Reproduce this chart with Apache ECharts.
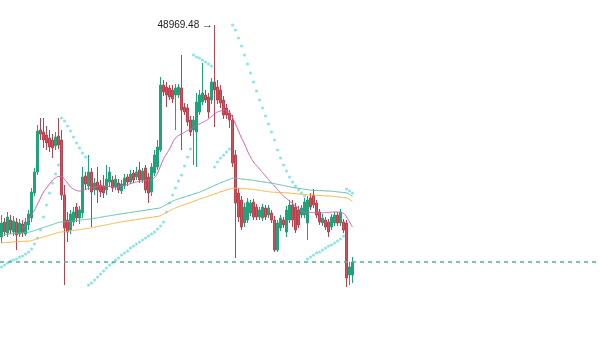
<!DOCTYPE html>
<html>
<head>
<meta charset="utf-8">
<style>
  html, body { margin: 0; padding: 0; background: #fff; }
  #kline { width: 600px; height: 351px; }
</style>
<script src="https://cdn.jsdelivr.net/npm/echarts@6/dist/echarts.min.js"></script>
</head>
<body>
<div id="kline"></div>
<script>
const slotCount = 200

const opens = [
  42610, 43060, 42730, 43120, 42760, 43060, 42700, 43000, 42700, 42970,
  43180, 43930, 44560, 45820, 45760, 45670, 45580, 45520, 45340, 45640,
  45520, 43870, 43120, 42820, 43060, 43510, 43180, 43330, 44440, 44140,
  44560, 44020, 44260, 44170, 44140, 44020, 44260, 44320, 44110, 44230,
  43990, 44140, 44410, 44260, 44530, 44410, 44620, 44320, 44680, 44410,
  43960, 44530, 44710, 45220, 47170, 47110, 47080, 47020, 46870, 46870,
  47080, 46510, 46480, 46120, 45820, 45760, 46360, 46660, 46870, 46810,
  46720, 47260, 47110, 47020, 46720, 46480, 46330, 46120, 45070, 43930,
  43720, 43030, 43120, 43330, 43660, 43510, 43210, 43180, 43480, 43270,
  43330, 43120, 42220, 42880, 43120, 42760, 43120, 43570, 43510, 43420,
  43270, 43270, 43030, 43780, 43870, 43630, 43360, 43030, 43120, 43060,
  42910, 43030, 43270, 43030, 43060, 43030, 41470, 41470,
]
const closes = [
  43030, 42760, 43210, 42820, 43090, 42670, 43030, 42730, 43060, 43300,
  43960, 44560, 45790, 45700, 45520, 45430, 45310, 45280, 45610, 45370,
  43870, 42880, 42760, 43300, 43360, 43180, 43420, 44410, 44200, 44560,
  43960, 44230, 44020, 43960, 43930, 44350, 44560, 44080, 44350, 44020,
  44200, 44380, 44260, 44500, 44320, 44560, 44320, 44590, 44020, 43930,
  44710, 45070, 45310, 47170, 46960, 46870, 46810, 46750, 47080, 47110,
  46420, 46360, 46060, 45760, 46120, 46660, 46870, 46930, 46720, 46360,
  47260, 47020, 46720, 46630, 46270, 46270, 46120, 44830, 43630, 43210,
  42910, 43510, 43660, 43630, 43210, 43210, 43420, 43510, 43210, 43480,
  43120, 42220, 43030, 43180, 42970, 43420, 43570, 43120, 42820, 42970,
  43480, 43660, 43720, 43510, 43570, 43270, 43060, 43180, 42910, 42760,
  43210, 43270, 43030, 43360, 42820, 41380, 41710, 41860,
]
const lows = [
  42430, 42640, 42610, 42700, 42640, 42220, 42610, 42610, 42640, 42820,
  43060, 43840, 44470, 45520, 45280, 45220, 45160, 44980, 45220, 45250,
  43720, 41170, 42460, 42700, 42940, 43060, 43000, 43180, 44020, 44020,
  42910, 43870, 43630, 43810, 43780, 43870, 44110, 43960, 44020, 43930,
  43900, 44050, 44140, 44200, 44230, 44320, 44230, 44230, 43930, 43630,
  43840, 44440, 44620, 45160, 46840, 46510, 46720, 46630, 45820, 46780,
  45220, 46270, 45940, 45640, 44770, 44710, 46270, 46570, 46630, 46180,
  46600, 45910, 46600, 46480, 46150, 46150, 45880, 44710, 41980, 43060,
  42820, 42910, 43030, 43240, 43120, 43120, 43120, 43090, 43120, 43180,
  43030, 42160, 42160, 42790, 42880, 42610, 43030, 42910, 42730, 42880,
  43180, 43180, 42520, 43420, 43480, 43180, 42970, 42940, 42820, 42610,
  42820, 42940, 42940, 42940, 42730, 41110, 41170, 41230,
]
const highs = [
  43270, 43180, 43360, 43270, 43240, 43180, 43150, 43120, 43180, 43420,
  44080, 44680, 45970, 46180, 46180, 45940, 45820, 45700, 45760, 46180,
  45820, 44170, 43360, 43420, 43510, 43630, 43540, 44710, 44560, 45070,
  44680, 44380, 44710, 44320, 44470, 44770, 44710, 44440, 44470, 44350,
  44320, 44500, 44500, 44620, 44620, 44710, 44860, 44680, 44770, 44530,
  44830, 45220, 45520, 47410, 47320, 47260, 47170, 47170, 47200, 47200,
  48070, 46630, 46600, 46240, 46240, 46930, 47020, 47830, 47020, 46930,
  47380, 48969.48, 47320, 47170, 46840, 46600, 46420, 46270, 45220, 44080,
  43840, 43630, 43780, 43720, 43750, 43600, 43510, 43600, 43570, 43570,
  43420, 43240, 43120, 43270, 43210, 43540, 43720, 43720, 43630, 43540,
  43570, 43780, 43840, 43930, 44050, 43720, 43450, 43300, 43210, 43150,
  43300, 43360, 43360, 43450, 43150, 43120, 41860, 42010,
]

// moving averages
const maFast = [
  null, null, null, null, null, null, null, 42850, 42985, 43120,
  43270, 43420, 43600, 43780, 43960, 44080, 44200, 44320, 44380, 44425,
  44425, 44335, 44230, 44110, 44050, 44005, 43990, 44005, 44035, 44065,
  44080, 44101, 44125, 44140, 44134, 44128, 44122, 44116, 44110, 44110,
  44140, 44161, 44185, 44209, 44236, 44260, 44275, 44290, 44305, 44320,
  44350, 44395, 44530, 44740, 44950, 45100, 45250, 45430, 45580, 45655,
  45700, 45754, 45805, 45850, 45901, 45952, 46000, 46045, 46090, 46150,
  46225, 46300, 46360, 46390, 46420, 46390, 46345, 46195, 46000, 45790,
  45580, 45400, 45190, 45010, 44860, 44755, 44650, 44545, 44440, 44335,
  44230, 44140, 44035, 43930, 43840, 43765, 43690, 43615, 43540, 43465,
  43390, 43360, 43351, 43345, 43339, 43333, 43330, 43336, 43342, 43348,
  43354, 43360, 43360, 43345, 43315, 43210, 43060, 42910,
]
const maMid = [
  42670, 42682, 42694, 42703, 42715, 42721, 42730, 42739, 42748, 42754,
  42775, 42805, 42835, 42865, 42895, 42925, 42955, 42985, 43015, 43045,
  43060, 43066, 43075, 43084, 43096, 43105, 43114, 43126, 43135, 43144,
  43157, 43172, 43187, 43202, 43217, 43232, 43247, 43262, 43277, 43292,
  43306, 43321, 43333, 43348, 43360, 43375, 43387, 43402, 43414, 43429,
  43441, 43456, 43468, 43489, 43537, 43585, 43633, 43681, 43723, 43753,
  43783, 43810, 43840, 43867, 43897, 43924, 43954, 43993, 44032, 44074,
  44113, 44155, 44194, 44236, 44269, 44305, 44338, 44374, 44371, 44362,
  44350, 44341, 44329, 44320, 44308, 44293, 44281, 44266, 44254, 44239,
  44227, 44209, 44191, 44173, 44155, 44137, 44119, 44098, 44086, 44071,
  44059, 44044, 44032, 44017, 44011, 44008, 44002, 43999, 43993, 43990,
  43984, 43975, 43963, 43954, 43942, 43933, 43885, 43825,
]
const maSlow = [
  42430, 42439, 42448, 42454, 42463, 42466, 42472, 42478, 42484, 42487,
  42503, 42530, 42557, 42584, 42611, 42638, 42665, 42692, 42719, 42746,
  42760, 42769, 42781, 42793, 42808, 42820, 42832, 42847, 42859, 42871,
  42887, 42905, 42923, 42941, 42959, 42977, 42995, 43013, 43031, 43049,
  43066, 43081, 43093, 43108, 43120, 43135, 43147, 43162, 43174, 43189,
  43201, 43216, 43228, 43249, 43297, 43345, 43393, 43441, 43483, 43517,
  43550, 43581, 43615, 43646, 43679, 43710, 43744, 43774, 43804, 43837,
  43867, 43900, 43930, 43966, 43991, 44020, 44045, 44074, 44075, 44071,
  44063, 44059, 44051, 44047, 44038, 44023, 44011, 43996, 43984, 43969,
  43957, 43952, 43948, 43943, 43939, 43934, 43930, 43918, 43910, 43900,
  43894, 43883, 43876, 43867, 43861, 43858, 43852, 43849, 43843, 43840,
  43834, 43825, 43813, 43804, 43792, 43783, 43735, 43675,
]
// parabolic SAR dots
const sarValues = [
  41710, 41770, 41830, 41890, 41920, 41950, 42010, 42040, 42100, 42160,
  42250, 42400, 42580, 42820, 43210, 43570, 43930, 44230, 44500, 44770,
  46180, 46090, 45940, 45790, 45610, 45430, 45280, 45130, 45010, 41170,
  41230, 41320, 41410, 41500, 41590, 41680, 41770, 41830, 41920, 41980,
  42070, 42130, 42190, 42280, 42340, 42400, 42460, 42520, 42580, 42640,
  42700, 42760, 42850, 42940, 43060, 43360, 43630, 43870, 44080, 44290,
  44470, 44740, 45010, 45250, 48070, 48010, 47980, 47920, 47860, 47800,
  47740, 44710, 44860, 44980, 45070, 45160, 45250, 48969, 48820, 48580,
  48340, 48070, 47800, 47530, 47260, 46990, 46720, 46480, 46240, 46000,
  45760, 45520, 45220, 44980, 44770, 44590, 44410, 44260, 44140, 44020,
  43930, 43840, 41950, 42010, 42070, 42130, 42160, 42220, 42280, 42340,
  42370, 42430, 42490, 42550, 42640, 44050, 43990, 43930,
]

const categories = []
for (let i = 0; i < slotCount; i++) {
  categories.push(String(i + 1))
}
const candles = opens.map((o, i) => [o, closes[i], lows[i], highs[i]])
const lastClose = closes[closes.length - 1]

const chart = echarts.init(document.getElementById('kline'))
const option = {
  animation: false,
  grid: { left: 0, right: 0, top: 0, bottom: 0 },
  xAxis: {
    type: 'category',
    data: categories,
    boundaryGap: true,
    show: false,
  },
  yAxis: {
    type: 'value',
    min: 39190,
    max: 49720,
    show: false,
    splitLine: { show: false },
  },
  series: [
    {
      name: 'kline',
      type: 'candlestick',
      data: candles,
      barWidth: 2,
      itemStyle: {
        color: '#1fa37a',
        color0: '#d6505b',
        borderColor: '#1fa37a',
        borderColor0: '#b8424d',
        borderWidth: 1,
      },
      markPoint: {
        symbol: 'rect',
        symbolSize: 1,
        itemStyle: { color: 'rgba(0,0,0,0)' },
        data: [{ type: 'max', valueDim: 'highest' }],
        label: {
          show: true,
          position: 'left',
          distance: 1,
          color: '#222',
          fontSize: 10,
          fontFamily: 'Arial, "Liberation Sans", sans-serif',
          formatter: (p) => Number(p.value).toFixed(2) + ' {a|\u2192}',
          rich: {
            a: { fontSize: 11, fontWeight: 'bold', color: '#222', padding: [0, 0, 1, 0] },
          },
        },
      },
      markLine: {
        silent: true,
        symbol: ['none', 'none'],
        label: { show: false },
        lineStyle: { color: '#4fb0a6', type: [4, 4], width: 1.5 },
        data: [{ yAxis: lastClose }],
      },
    },
    {
      name: 'MA fast',
      type: 'line',
      data: maFast,
      smooth: true,
      showSymbol: false,
      lineStyle: { color: '#d45cae', width: 1 },
    },
    {
      name: 'MA mid',
      type: 'line',
      data: maMid,
      smooth: true,
      showSymbol: false,
      lineStyle: { color: '#5bbcaa', width: 1 },
    },
    {
      name: 'MA slow',
      type: 'line',
      data: maSlow,
      smooth: true,
      showSymbol: false,
      lineStyle: { color: '#f0b43a', width: 1 },
    },
    {
      name: 'SAR',
      type: 'scatter',
      data: sarValues,
      symbolSize: 3,
      itemStyle: { color: '#6adde6' },
    },
  ],
}
chart.setOption(option)
</script>
</body>
</html>
